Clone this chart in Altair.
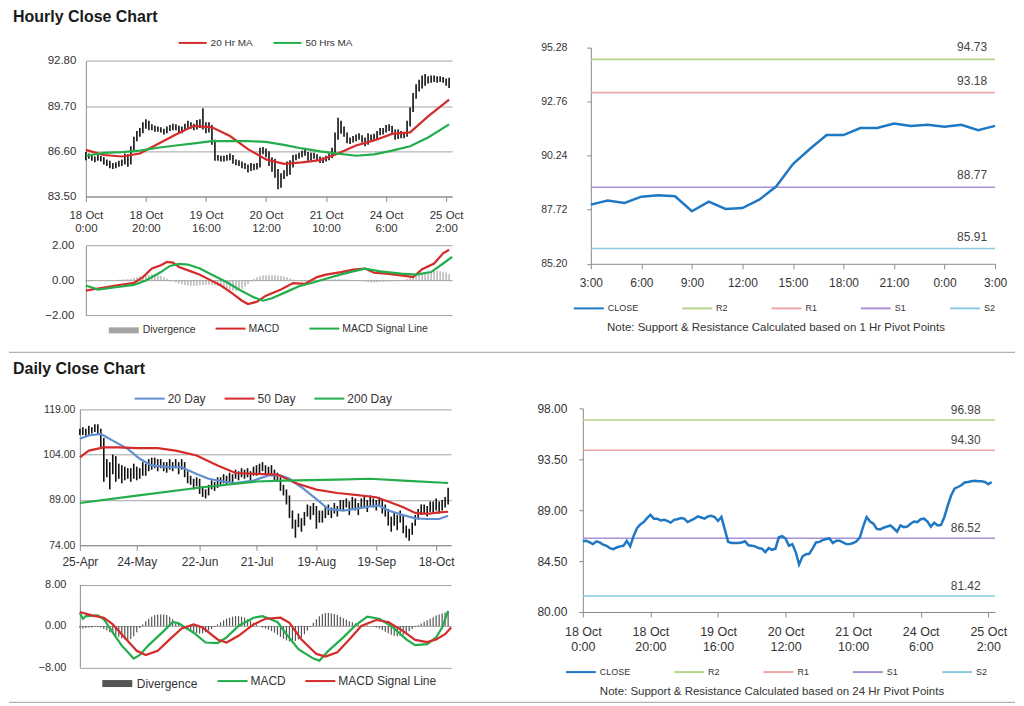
import json
import altair as alt
import pandas as pd

FONT = "Liberation Sans"
TXT = "#333333"
GRID = "#a3a3a3"
AXC = "#8a8a8a"
RED = "#d42b2b"
GREEN = "#23ad4b"
BLUE20 = "#5f8fd1"
CLOSE_BLUE = "#1f78c4"
PIVOT_COLORS = ["#b5d48a", "#eca7a7", "#a892d3", "#8ccbe3"]

# ---------------- tick labels ----------------
HOUR_TICK_POS = [0, 20, 40, 60, 80, 100, 120]
HOUR_TICK_LBL = ["18 Oct|0:00", "18 Oct|20:00", "19 Oct|16:00", "20 Oct|12:00",
                 "21 Oct|10:00", "24 Oct|6:00", "25 Oct|2:00"]
DAY_TICK_POS = [0, 19, 40, 59, 79, 99, 119]
DAY_TICK_LBL = ["25-Apr", "24-May", "22-Jun", "21-Jul", "19-Aug", "19-Sep", "18-Oct"]
PIV_HOUR_POS = [0, 3, 6, 9, 12, 15, 18, 21, 24]
PIV_HOUR_LBL = ["3:00", "6:00", "9:00", "12:00", "15:00", "18:00", "21:00", "0:00", "3:00"]

# ---------------- hourly bars (18 Oct 0:00 - 25 Oct 2:00) ----------------
hour_close = [86.25, 86.3, 86.15, 86.0, 86.25, 86.15, 85.95, 85.85, 85.65, 85.55,
              85.7, 85.8, 85.85, 86.3, 85.8, 86.7, 87.4, 87.75, 87.95, 88.3,
              88.6, 88.25, 88.25, 88.1, 88.15, 88.05, 87.9, 88.15, 88.2, 88.3,
              88.25, 87.95, 88.1, 88.25, 88.45, 88.35, 88.25, 88.45, 88.5, 88.4,
              88.05, 88.4, 87.3, 86.2, 86.1, 86.1, 86.1, 86.15, 86.25, 85.9,
              85.85, 85.8, 85.65, 85.6, 85.3, 85.65, 85.5, 85.6, 86.6, 86.7,
              86.5, 85.85, 86.0, 85.3, 84.2, 84.9, 85.1, 85.15, 85.6, 86.15,
              86.2, 86.35, 86.45, 86.5, 86.1, 86.3, 86.3, 86.15, 86.0, 86.0,
              86.1, 86.25, 86.6, 87.6, 88.4, 88.0, 87.8, 87.35, 87.3, 87.45,
              87.55, 87.65, 87.4, 87.1, 87.65, 87.5, 87.55, 87.8, 88.0, 87.95,
              88.2, 88.25, 88.0, 87.55, 87.9, 87.65, 87.7, 88.4, 89.4, 90.3,
              90.9, 91.05, 91.2, 91.45, 91.5, 91.55, 91.6, 91.55, 91.55, 91.5,
              91.3, 91.5]
hour_low = [86.0, 86.1, 85.95, 85.85, 85.95, 85.9, 85.7, 85.6, 85.45, 85.4,
            85.45, 85.55, 85.6, 85.7, 85.55, 85.7, 86.6, 87.3, 87.6, 87.85,
            88.15, 88.05, 88.05, 87.95, 87.95, 87.9, 87.75, 87.85, 88.0, 88.05,
            88.05, 87.8, 87.85, 88.0, 88.1, 88.15, 88.05, 88.1, 88.2, 88.1,
            87.85, 87.9, 87.05, 85.95, 85.95, 85.9, 85.9, 85.95, 86.0, 85.75,
            85.65, 85.6, 85.45, 85.4, 85.15, 85.25, 85.3, 85.35, 85.5, 86.4,
            86.2, 85.6, 85.2, 84.8, 84.0, 84.1, 84.7, 84.9, 85.0, 85.5,
            86.0, 86.1, 86.2, 86.3, 85.95, 86.0, 86.1, 85.95, 85.8, 85.8,
            85.9, 86.0, 86.15, 86.5, 87.4, 87.8, 87.6, 87.15, 87.1, 87.2,
            87.3, 87.4, 87.2, 86.95, 87.05, 87.3, 87.35, 87.45, 87.7, 87.75,
            87.9, 88.0, 87.8, 87.4, 87.45, 87.5, 87.5, 87.6, 88.3, 89.3,
            90.2, 90.7, 90.9, 91.1, 91.25, 91.3, 91.35, 91.3, 91.35, 91.3,
            91.1, 90.95]
hour_high = [86.55, 86.45, 86.4, 86.25, 86.35, 86.3, 86.2, 86.05, 85.95, 85.8,
             85.85, 85.95, 86.05, 86.45, 86.4, 86.95, 87.6, 88.0, 88.2, 88.6,
             88.8, 88.7, 88.45, 88.35, 88.3, 88.25, 88.15, 88.3, 88.4, 88.5,
             88.45, 88.35, 88.3, 88.5, 88.7, 88.6, 88.5, 88.75, 88.8, 89.55,
             88.6, 88.6, 88.4, 87.4, 86.35, 86.3, 86.3, 86.35, 86.45, 86.35,
             86.05, 86.0, 85.9, 85.8, 85.7, 85.8, 85.75, 85.8, 86.85, 86.9,
             86.8, 86.6, 86.2, 86.1, 85.4, 85.1, 85.3, 85.9, 86.0, 86.35,
             86.4, 86.5, 86.65, 86.75, 86.55, 86.5, 86.5, 86.4, 86.25, 86.2,
             86.3, 86.45, 86.85, 87.9, 88.9, 88.7, 88.3, 87.9, 87.55, 87.65,
             87.75, 87.85, 87.7, 87.55, 87.85, 87.75, 87.8, 88.0, 88.2, 88.2,
             88.4, 88.45, 88.35, 88.1, 88.1, 88.0, 87.9, 88.7, 89.6, 90.6,
             91.2, 91.5, 91.8, 91.9, 91.75, 91.8, 91.8, 91.75, 91.75, 91.7,
             91.6, 91.65]
hour_ma_idx = [0, 6, 12, 18, 24, 30, 36, 42, 48, 54, 60, 66, 72, 78, 84, 90, 96, 102, 108, 114, 121]
hour_ma20 = [86.7, 86.35, 86.25, 86.45, 87.1, 87.75, 88.35, 88.25, 87.65, 86.75, 86.05,
             85.75, 85.85, 86.0, 86.45, 87.0, 87.35, 87.8, 87.9, 89.0, 90.15]
hour_ma50 = [86.3, 86.5, 86.55, 86.65, 86.85, 87.0, 87.15, 87.3, 87.3, 87.3, 87.25,
             87.05, 86.8, 86.6, 86.45, 86.3, 86.4, 86.65, 86.95, 87.55, 88.45]

# hourly MACD
hm_macd_idx = [0, 5, 10, 16, 19, 22, 25, 27, 29, 31, 35, 38, 41, 45, 49, 52, 54, 57, 60, 65,
               69, 73, 77, 80, 85, 89, 93, 96, 100, 105, 109, 112, 116, 119, 121]
hm_macd = [-0.58, -0.43, -0.29, -0.14, 0.19, 0.68, 0.87, 1.06, 1.02, 0.77, 0.52, 0.33, 0.06,
           -0.29, -0.77, -1.16, -1.35, -1.22, -0.87, -0.52, -0.15, -0.19, 0.19, 0.33, 0.48,
           0.62, 0.68, 0.44, 0.39, 0.29, 0.19, 0.64, 0.97, 1.55, 1.76]
hm_sig_idx = [0, 4, 10, 16, 20, 25, 28, 31, 34, 38, 42, 47, 51, 56, 59, 62, 67, 71, 76, 80,
              85, 89, 93, 98, 105, 110, 115, 119, 122]
hm_sig = [-0.29, -0.52, -0.39, -0.25, 0.0, 0.48, 0.83, 0.95, 0.91, 0.68, 0.33, -0.1, -0.52,
          -0.97, -1.16, -1.02, -0.64, -0.33, -0.1, 0.1, 0.35, 0.52, 0.68, 0.52, 0.39, 0.33,
          0.48, 0.97, 1.35]
hm_div = [-0.05, -0.05, -0.04, -0.03, -0.03, -0.02, -0.02, -0.02, 0.02, 0.03,
          0.03, 0.04, 0.05, 0.06, 0.08, 0.1, 0.14, 0.18, 0.22, 0.26,
          0.3, 0.33, 0.35, 0.34, 0.3, 0.25, 0.18, 0.1, 0.03, -0.05,
          -0.12, -0.18, -0.22, -0.26, -0.28, -0.3, -0.3, -0.3, -0.28, -0.26,
          -0.24, -0.24, -0.25, -0.28, -0.32, -0.38, -0.44, -0.5, -0.55, -0.58,
          -0.6, -0.56, -0.48, -0.36, -0.2, -0.05, 0.08, 0.18, 0.24, 0.28,
          0.3, 0.3, 0.3, 0.3, 0.28, 0.26, 0.22, 0.18, 0.12, 0.06,
          0.02, -0.02, -0.05, -0.06, -0.04, -0.02, 0.02, 0.04, 0.05, 0.06,
          0.06, 0.06, 0.07, 0.08, 0.08, 0.07, 0.06, 0.05, 0.04, 0.03,
          0.02, 0.0, -0.03, -0.06, -0.1, -0.12, -0.12, -0.1, -0.09, -0.08,
          -0.07, -0.06, -0.05, -0.04, -0.03, -0.02, 0.03, 0.08, 0.15, 0.25,
          0.32, 0.38, 0.44, 0.48, 0.5, 0.52, 0.55, 0.55, 0.53, 0.5,
          0.45, 0.35]

# hourly pivot chart (last 24 hours)
hr_close = [87.96, 88.15, 88.04, 88.33, 88.39, 88.35, 87.65, 88.1, 87.76, 87.8, 88.19, 88.8,
            89.85, 90.55, 91.2, 91.2, 91.53, 91.53, 91.74, 91.63, 91.68, 91.59, 91.68, 91.43, 91.63]
PIVOT_NAMES = ["R2", "R1", "S1", "S2"]
hr_levels = [94.73, 93.18, 88.77, 85.91]
dr_levels = [96.98, 94.30, 86.52, 81.42]

# ---------------- daily bars ----------------
daily_close = [111.5, 112.0, 111.0, 112.5, 112.0, 113.0, 112.5, 109.0, 97.5, 101.0,
               99.0, 102.0, 97.0, 99.5, 96.5, 99.0, 98.0, 97.5, 99.5, 97.0,
               98.5, 100.0, 99.0, 101.5, 100.5, 102.0, 100.0, 101.5, 100.0, 99.5,
               101.0, 100.0, 101.0, 99.0, 101.5, 98.0, 96.0, 95.5, 94.0, 95.5,
               93.0, 92.0, 91.0, 93.5, 94.5, 93.5, 95.5, 95.0, 96.5, 95.5,
               97.0, 96.0, 98.0, 97.0, 98.5, 97.5, 98.5, 97.0, 99.0, 98.5,
               99.5, 100.0, 99.0, 98.5, 99.0, 97.0, 96.5, 94.0, 92.5, 90.0,
               85.0, 82.0, 79.5, 82.5, 80.0, 84.0, 86.0, 84.5, 86.5, 81.5,
               84.0, 83.0, 85.5, 86.0, 84.5, 86.5, 85.0, 87.5, 87.0, 88.0,
               86.0, 88.5, 87.5, 85.5, 88.0, 88.5, 86.5, 89.0, 88.0, 87.5,
               89.0, 86.0, 85.5, 83.0, 80.5, 83.5, 81.0, 84.0, 80.5, 78.5,
               77.5, 80.0, 82.5, 84.5, 85.5, 86.0, 85.0, 87.0, 86.5, 87.5,
               86.0, 87.5, 88.0, 91.5]
daily_low = [110.5, 110.5, 110.0, 110.5, 111.0, 111.5, 110.5, 106.0, 95.0, 96.5,
             92.5, 97.5, 95.0, 96.0, 94.5, 95.5, 96.0, 95.0, 96.0, 95.5,
             96.0, 97.0, 97.0, 98.5, 99.0, 99.5, 98.5, 99.5, 98.5, 98.0,
             99.0, 98.5, 99.5, 97.5, 99.0, 96.5, 94.5, 94.0, 92.5, 93.5,
             91.0, 90.0, 89.5, 90.5, 92.5, 92.0, 93.0, 93.5, 94.5, 94.0,
             95.0, 94.5, 96.0, 95.5, 96.5, 96.0, 96.5, 95.5, 97.0, 97.0,
             97.5, 98.5, 97.5, 97.0, 97.5, 95.5, 95.0, 92.0, 90.5, 87.5,
             83.0, 79.5, 76.5, 80.0, 78.5, 80.5, 83.5, 82.5, 84.0, 79.5,
             81.5, 81.5, 83.0, 84.0, 83.0, 84.5, 83.5, 85.5, 85.5, 86.5,
             84.0, 86.0, 85.5, 84.0, 86.0, 86.5, 85.0, 87.0, 86.5, 85.5,
             87.0, 84.5, 83.5, 80.5, 78.5, 80.5, 79.0, 81.5, 78.0, 76.5,
             75.5, 77.5, 80.5, 82.5, 84.0, 84.5, 83.5, 85.0, 85.0, 85.5,
             84.5, 85.5, 86.5, 87.5]
daily_high = [112.5, 113.0, 112.5, 113.5, 113.0, 114.0, 114.0, 112.5, 109.5, 102.5,
              101.5, 104.0, 103.5, 101.0, 100.5, 100.0, 99.5, 99.5, 101.0, 100.0,
              99.5, 101.5, 101.0, 102.5, 103.0, 103.0, 102.5, 102.5, 101.5, 101.5,
              102.5, 101.5, 102.5, 101.5, 102.5, 101.5, 98.5, 97.0, 96.0, 96.5,
              96.0, 93.5, 92.5, 94.0, 95.5, 95.0, 96.5, 96.5, 97.5, 97.0,
              98.0, 97.5, 99.0, 98.5, 99.5, 99.0, 99.5, 98.5, 100.0, 100.5,
              101.0, 101.5, 100.5, 100.0, 100.5, 99.0, 98.0, 96.5, 94.0, 92.5,
              90.5, 85.5, 82.5, 84.5, 83.0, 85.0, 87.5, 87.0, 88.0, 87.0,
              85.5, 85.5, 87.0, 87.5, 86.5, 88.0, 87.0, 89.0, 89.0, 89.5,
              88.5, 90.0, 89.5, 88.0, 89.5, 90.0, 89.0, 90.5, 89.5, 89.0,
              90.0, 89.0, 87.5, 86.0, 83.5, 85.0, 84.0, 85.5, 84.0, 80.5,
              79.5, 81.5, 84.0, 86.0, 87.5, 87.5, 87.0, 88.5, 88.5, 89.5,
              88.5, 89.0, 90.0, 93.0]
d20_idx = [0, 3, 7, 11, 16, 20, 24, 30, 34, 39, 43, 48, 52, 58, 63, 67, 70, 74, 79, 83,
           88, 92, 97, 100, 103, 108, 112, 116, 120, 123]
d20 = [109.2, 110.3, 110.8, 108.6, 105.9, 102.6, 100.4, 99.8, 99.8, 97.6, 96.0, 95.1, 94.6,
       95.4, 97.1, 97.1, 96.0, 93.2, 89.3, 86.0, 85.5, 86.0, 86.9, 87.1, 85.5, 84.0, 82.9,
       82.7, 82.7, 83.8]
d50_idx = [0, 3, 8, 13, 19, 26, 32, 39, 46, 52, 59, 66, 72, 79, 86, 92, 99, 103, 108, 112,
           116, 120, 123]
d50 = [103.1, 105.3, 106.4, 106.4, 106.1, 106.1, 105.3, 103.7, 100.4, 97.9, 97.6, 97.4, 94.6,
       92.4, 91.3, 90.7, 89.9, 88.5, 86.6, 84.7, 84.4, 84.9, 85.1]
d200_idx = [0, 19, 41, 59, 68, 86, 97, 108, 123]
d200 = [88.0, 90.4, 93.2, 95.1, 95.4, 95.7, 96.0, 95.4, 94.6]

# daily MACD
dm_macd_idx = [0, 1, 2, 6, 8, 11, 14, 18, 20, 23, 28, 31, 33, 38, 42, 46, 49, 53, 58, 61,
               66, 69, 73, 78, 80, 83, 88, 92, 96, 100, 104, 109, 112, 116, 119, 121, 123]
dm_macd = [2.56, 1.4, 1.9, 2.05, 1.3, -1.3, -3.8, -6.3, -5.6, -3.7, -1.0, 0.77, 0.5, -1.3,
           -3.2, -3.3, -2.2, 0.0, 1.6, 1.9, 0.77, -1.6, -4.5, -6.3, -6.7, -4.8, -2.2, 0.1,
           1.8, 1.4, 0.0, -2.6, -3.7, -3.5, -2.2, -0.3, 2.9]
dm_sig_idx = [0, 4, 8, 11, 16, 19, 22, 26, 30, 34, 38, 41, 46, 49, 53, 58, 62, 67, 70, 74,
              79, 82, 86, 90, 94, 99, 103, 108, 112, 116, 119, 122, 124]
dm_sig = [2.7, 2.05, 1.6, 0.3, -2.9, -4.8, -5.6, -4.8, -2.6, -0.5, 0.3, -0.3, -2.6, -3.2,
          -1.9, 0.3, 1.4, 1.6, 0.6, -2.6, -5.4, -5.9, -5.1, -2.6, 0.0, 1.15, 0.77, -1.0,
          -2.7, -3.1, -2.6, -1.6, -0.3]
dm_div = [-0.3, -0.5, -0.4, -0.3, -0.3, -0.2, -0.2, -0.3, -0.6, -0.9,
          -1.2, -1.5, -1.8, -2.1, -2.4, -2.6, -2.7, -2.5, -2.0, -1.2,
          -0.4, 0.3, 0.9, 1.4, 1.8, 2.1, 2.2, 2.2, 2.2, 2.1,
          1.8, 1.3, 0.8, 0.4, 0.0, -0.4, -0.8, -1.1, -1.3, -1.4,
          -1.5, -1.4, -1.2, -0.9, -0.6, -0.2, 0.3, 0.7, 1.1, 1.4,
          1.6, 1.8, 1.9, 1.9, 1.8, 1.6, 1.3, 1.0, 0.6, 0.3,
          0.0, -0.3, -0.5, -0.7, -1.0, -1.3, -1.7, -2.1, -2.5, -2.8,
          -3.0, -3.1, -2.9, -2.6, -2.2, -1.6, -0.9, -0.2, 0.6, 1.3,
          1.9, 2.3, 2.5, 2.5, 2.4, 2.3, 2.1, 1.8, 1.5, 1.2,
          0.9, 0.7, 0.5, 0.3, 0.2, 0.2, 0.1, 0.0, -0.1, -0.3,
          -0.5, -0.8, -1.1, -1.4, -1.7, -1.9, -2.0, -1.9, -1.7, -1.4,
          -1.0, -0.6, -0.2, 0.2, 0.5, 0.8, 1.1, 1.4, 1.7, 2.0,
          2.2, 2.4, 2.6, 2.8]


# ---------------- helpers ----------------
def lbl(pos, labels):
    return "split(%s[indexof(%s, datum.value)], '|')" % (json.dumps(labels), json.dumps(pos))


def legend(x, y, size, fs, pad, offset=3, stroke=2):
    return alt.Legend(orient="none", legendX=x, legendY=y, direction="horizontal", title=None,
                      symbolType="stroke", symbolSize=size, symbolStrokeWidth=stroke,
                      labelFontSize=fs, labelFont=FONT, labelColor=TXT, columnPadding=pad,
                      labelOffset=offset)


def long_df(pairs):
    frames = [pd.DataFrame({"i": idx, "v": vals, "s": name}) for name, idx, vals in pairs]
    return pd.concat(frames, ignore_index=True)


def spacer(w, title=None):
    c = alt.Chart(pd.DataFrame({"a": [0]})).mark_point(opacity=0, size=0).encode(
        x=alt.X("a:Q", axis=None), y=alt.Y("a:Q", axis=None)).properties(width=w, height=1)
    if title is not None:
        c = c.properties(title=title)
    return c


def gap_with_separator(w, left, right, y):
    base = alt.Chart(pd.DataFrame({"a": [0]}))
    return base.mark_rule(color="#a0a0a0", strokeWidth=1).encode(
        x=alt.value(-left), x2=alt.value(right), y=alt.value(y)).properties(width=w, height=1)


def section_title(text, off):
    return alt.TitleParams(text, anchor="start", fontSize=16, font=FONT, fontWeight="bold",
                           color="#1a1a1a", offset=off, dx=4)


# ---------------- combined price + MACD panel ----------------
def price_macd_panel(w, h, xdom, xticks, xlabels, xlh, xfs, xpad,
                     bars, ma_pairs, ma_colors, ma_leg,
                     pdom, pvals, prange, pfs, ppad,
                     div_vals, div_color, div_leg, macd_pairs, mcolors, m_leg,
                     mdom, mvals, mrange, mfs, mpad):
    xs = alt.Scale(domain=xdom, nice=False, zero=False)
    xaxis = alt.Axis(values=xticks, labelExpr=lbl(xticks, xlabels), title=None, grid=False,
                     labelFlush=False, labelOverlap=False, tickSize=5, tickColor=AXC,
                     domainColor=AXC, labelFontSize=xfs, labelColor=TXT, labelFont=FONT,
                     labelPadding=xpad, labelLineHeight=xlh, offset=-(h - prange[0]))
    ps = alt.Scale(domain=pdom, range=prange, nice=False, zero=False)
    paxis = alt.Axis(values=pvals, format=".2f", title=None, orient="left", grid=True,
                     gridColor=GRID, ticks=False, domainColor=AXC, labelPadding=ppad,
                     labelFontSize=pfs, labelColor=TXT, labelFont=FONT)
    ms = alt.Scale(domain=mdom, range=mrange, nice=False, zero=False)
    maxis = alt.Axis(values=mvals, format=".2f", title=None, orient="left", grid=True,
                     gridColor=GRID, ticks=False, domainColor=AXC, labelPadding=mpad,
                     labelFontSize=mfs, labelColor=TXT, labelFont=FONT)
    X = alt.X("i:Q", scale=xs, axis=xaxis)

    candles = alt.Chart(bars).mark_rule(color="#111111", strokeWidth=1.6).encode(
        x=X, y=alt.Y("lo:Q", scale=ps, axis=paxis), y2="hi:Q")
    ma_names = [p[0] for p in ma_pairs]
    mas = alt.Chart(long_df(ma_pairs)).mark_line(strokeWidth=2.2).encode(
        x=X, y=alt.Y("v:Q", scale=ps, axis=paxis),
        color=alt.Color("s:N", scale=alt.Scale(domain=ma_names, range=ma_colors), legend=ma_leg))
    price = alt.layer(candles, mas)

    divbars = alt.Chart(long_df([("Divergence", list(range(len(div_vals))), div_vals)])).mark_rule(
        strokeWidth=1.2).encode(
        x=X, y=alt.Y("v:Q", scale=ms, axis=maxis), y2=alt.datum(0),
        color=alt.Color("s:N", scale=alt.Scale(domain=["Divergence"], range=[div_color]),
                        legend=div_leg))
    line_names = [p[0] for p in macd_pairs]
    mlines = alt.Chart(long_df(macd_pairs)).mark_line(strokeWidth=2.2).encode(
        x=X, y=alt.Y("v:Q", scale=ms, axis=maxis),
        color=alt.Color("s:N", scale=alt.Scale(domain=line_names, range=mcolors), legend=m_leg))
    macd = alt.layer(divbars, mlines).resolve_scale(color="independent")
    return alt.layer(price, macd).resolve_scale(y="independent", color="independent").properties(
        width=w, height=h)


hour_bars = pd.DataFrame({"i": list(range(len(hour_close))), "close": hour_close,
                          "lo": hour_low, "hi": hour_high})
left_a = price_macd_panel(
    367, 268, [0, 122], HOUR_TICK_POS, HOUR_TICK_LBL, 13, 11.5, 8,
    hour_bars, [("20 Hr MA", hour_ma_idx, hour_ma20), ("50 Hrs MA", hour_ma_idx, hour_ma50)],
    [RED, GREEN], legend(92, -19.7, 784, 10, 16),
    [83.5, 92.8], [83.5, 86.6, 89.7, 92.8], [149.3, 13.3], 11.5, 10,
    hm_div, "#a5a5a5", legend(20, 265.3, 900, 10.5, 10, offset=1, stroke=6),
    [("MACD", hm_macd_idx, hm_macd), ("MACD Signal Line", hm_sig_idx, hm_sig)],
    [RED, GREEN], legend(129, 265.3, 900, 10.5, 26, offset=2),
    [-2, 2], [-2, 0, 2], [268.3, 198.3], 11.5, 12)

daily_bars = pd.DataFrame({"i": list(range(len(daily_close))), "close": daily_close,
                           "lo": daily_low, "hi": daily_high})
left_b = price_macd_panel(
    372, 259.5, [0, 124], DAY_TICK_POS, DAY_TICK_LBL, 14, 12, 6,
    daily_bars, [("20 Day", d20_idx, d20), ("50 Day", d50_idx, d50), ("200 Day", d200_idx, d200)],
    [BLUE20, RED, GREEN], legend(54, -25.8, 900, 12, 14, offset=2),
    [74, 119], [74, 89, 104, 119], [137.2, 0.8], 10.5, 5,
    dm_div, "#555555", legend(19, 257.2, 900, 12, 10, offset=1, stroke=7),
    [("MACD", dm_macd_idx, dm_macd), ("MACD Signal Line", dm_sig_idx, dm_sig)],
    [GREEN, RED], legend(137, 257.2, 900, 12, 15, offset=2),
    [-8, 8], [-8, 0, 8], [259.5, 176.5], 11, 14)


# ---------------- pivot charts ----------------
def pivot_chart(close_vals, levels, xdom, tick_pos, tick_lbl, ydom, yvals, note, w, h,
                xfs, xpad, xlh, yfs, ypad, leg_x, leg_y, leg_pad, note_x, note_y, txt_dy, txt_dx):
    xs = alt.Scale(domain=xdom, nice=False, zero=False)
    xaxis = alt.Axis(values=tick_pos, labelExpr=lbl(tick_pos, tick_lbl), title=note,
                     grid=False, labelFlush=False, labelOverlap=False, tickSize=5,
                     tickColor=AXC, domainColor=AXC, labelFontSize=xfs, labelColor=TXT,
                     labelFont=FONT, labelPadding=xpad, labelLineHeight=xlh,
                     titleFont=FONT, titleFontSize=11.5, titleFontWeight="normal",
                     titleColor=TXT, titleX=note_x, titleY=note_y, titleBaseline="middle",
                     titleAlign="center")
    yaxis = alt.Axis(values=yvals, format=".2f", title=None, grid=False, ticks=True,
                     tickSize=4, tickColor=AXC, domainColor=AXC, labelPadding=ypad,
                     labelFontSize=yfs, labelColor=TXT, labelFont=FONT)
    ys = alt.Scale(domain=ydom, nice=False, zero=False)
    color = alt.Color("s:N", scale=alt.Scale(domain=["CLOSE"] + PIVOT_NAMES,
                                             range=[CLOSE_BLUE] + PIVOT_COLORS),
                      legend=legend(leg_x, leg_y, 900, 9, leg_pad))
    cdf = pd.DataFrame({"h": list(range(len(close_vals))), "v": close_vals, "s": "CLOSE"})
    pdf = pd.DataFrame({"s": PIVOT_NAMES, "level": levels,
                        "xend": [len(close_vals) - 1] * len(levels)})
    rules = alt.Chart(pdf).mark_rule(strokeWidth=1.6).encode(
        y=alt.Y("level:Q", scale=ys, axis=yaxis), color=color)
    texts = alt.Chart(pdf).mark_text(align="right", baseline="bottom", dx=txt_dx, dy=txt_dy,
                                     fontSize=12, font=FONT, color="#444444").encode(
        x=alt.X("xend:Q", scale=xs, axis=xaxis), y=alt.Y("level:Q", scale=ys, axis=yaxis),
        text=alt.Text("level:Q", format=".2f"))
    line = alt.Chart(cdf).mark_line(strokeWidth=2.5).encode(
        x=alt.X("h:Q", scale=xs, axis=xaxis), y=alt.Y("v:Q", scale=ys, axis=yaxis), color=color)
    return alt.layer(rules, texts, line).properties(width=w, height=h)


hr = pivot_chart(hr_close, hr_levels, [0, 24], PIV_HOUR_POS, PIV_HOUR_LBL,
                 [85.2, 95.28], [85.2, 87.72, 90.24, 92.76, 95.28],
                 "Note: Support & Resistance Calculated based on 1 Hr Pivot Points",
                 405, 216.6, 12, 9, 14, 10.5, 20, -18, 245.3, 39.5, 185, 63.7, -5, -8)

dr = pivot_chart(hour_close, dr_levels, [0, 122], HOUR_TICK_POS, HOUR_TICK_LBL,
                 [80, 98], [80, 84.5, 89, 93.5, 98],
                 "Note:  Support & Resistance Calculated based on 24 Hr Pivot Points",
                 413, 204, 12.5, 9, 15, 12, 12, -18, 248.2, 39.5, 189, 80, -3, -11)

# ---------------- layout ----------------
# each section: [margin spacer | price+MACD panel | gap | pivot chart], flush bounds
sec_a = alt.hconcat(
    spacer(77, section_title("Hourly Close Chart", 23)), left_a,
    gap_with_separator(139, 444, 564, 305.3), hr,
    spacing=0, bounds="flush").resolve_scale(color="independent")
sec_b = alt.hconcat(
    spacer(71, section_title("Daily Close Chart", 31)), left_b,
    gap_with_separator(132, 443, 565, 294.5), dr,
    spacing=0, bounds="flush").resolve_scale(color="independent")

chart = alt.vconcat(sec_a, sec_b, spacing=8.5).resolve_scale(color="independent").properties(
    padding=0).configure_view(stroke=None)

chart.save("out.html", embed_options={"renderer": "svg", "actions": False})
